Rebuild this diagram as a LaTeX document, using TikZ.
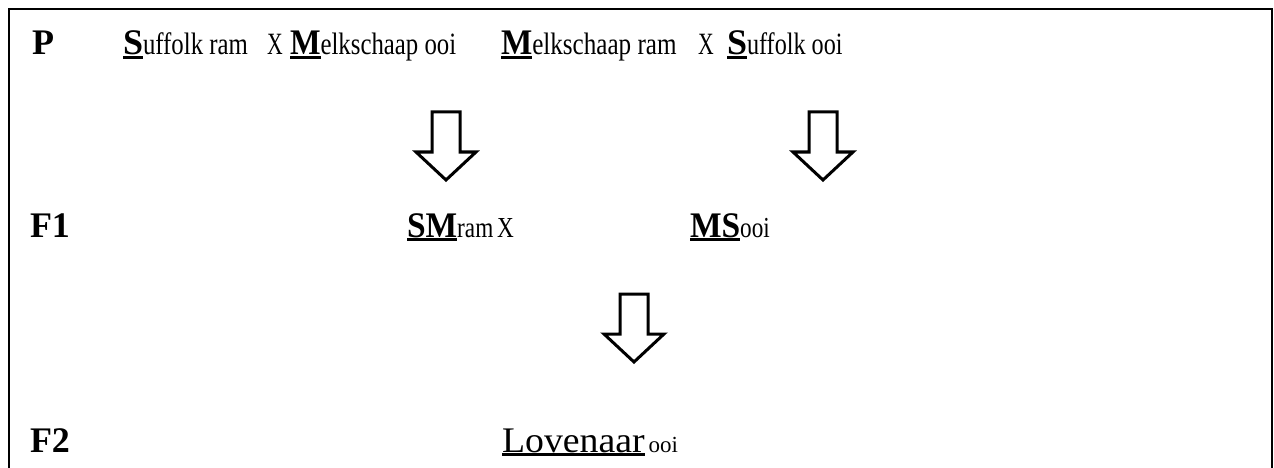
\documentclass[tikz,border=0pt]{standalone}
\usepackage{graphicx}
\usepackage{fontspec}
\setmainfont{Liberation Serif}
\newcommand\ulx[1]{\setbox0\hbox{#1}\rlap{\rule[-4pt]{\wd0}{3pt}}\box0}
\newcommand\hs[2]{\scalebox{#1}[1]{#2}}
\newcommand\bigb{\fontsize{36}{40}\selectfont\bfseries}
\newcommand\smf{\fontsize{31}{36}\selectfont\mdseries}
\newcommand\mdf{\fontsize{29}{34}\selectfont\mdseries}
\newcommand\lovf{\fontsize{36}{40}\selectfont\mdseries}
\newcommand\tinyf{\fontsize{23}{26}\selectfont\mdseries}
\tikzset{
  txt/.style={anchor=base west, inner sep=0pt, outer sep=0pt},
  blockarrow/.pic={\draw[line width=3pt, line join=miter, fill=white]
     (-14,0) -- (14,0) -- (14,40) -- (30,40) -- (0,68) -- (-30,40) -- (-14,40) -- cycle;}
}
\begin{document}
\begin{tikzpicture}[x=1pt,y=-1pt]
\useasboundingbox (0,0) rectangle (1274,468);
\draw[line width=2.5pt] (9,470) -- (9,9) -- (1272,9) -- (1272,470);
% row P
\node[txt] (p) at (32,55) {\bigb P};
\node[txt] (s1) at (123,55) {\ulx{\bigb S}\hs{0.8}{\smf uffolk ram}};
\node[txt] (x1) at (267,55) {\hs{0.7}{\smf X}};
\node[txt] (m1) at (290,55) {\ulx{\hs{0.9}{\bigb M}}\hs{0.8}{\smf elkschaap ooi}};
\node[txt] (m2) at (501,55) {\ulx{\hs{0.92}{\bigb M}}\hs{0.81}{\smf elkschaap ram}};
\node[txt] (x2) at (698,55) {\hs{0.7}{\smf X}};
\node[txt] (s2) at (727,55) {\ulx{\bigb S}\hs{0.78}{\smf uffolk ooi}};
% arrows
\pic at (446,112) {blockarrow};
\pic at (823,112) {blockarrow};
\pic at (634,294) {blockarrow};
% row F1
\node[txt] (f1) at (30,237) {\bigb F1};
\node[txt] (sm) at (407,237) {\ulx{\hs{0.93}{\bigb SM}}\hs{0.8}{\mdf ram\,X}};
\node[txt] (ms) at (690,237) {\ulx{\hs{0.93}{\bigb MS}}\hs{0.8}{\mdf ooi}};
% row F2
\node[txt] (f2) at (30,452) {\bigb F2};
\node[txt] (lov) at (502,452) {\ulx{\hs{1.05}{\lovf Lovenaar}}\hspace{4pt}\tinyf ooi};
\end{tikzpicture}
\end{document}
